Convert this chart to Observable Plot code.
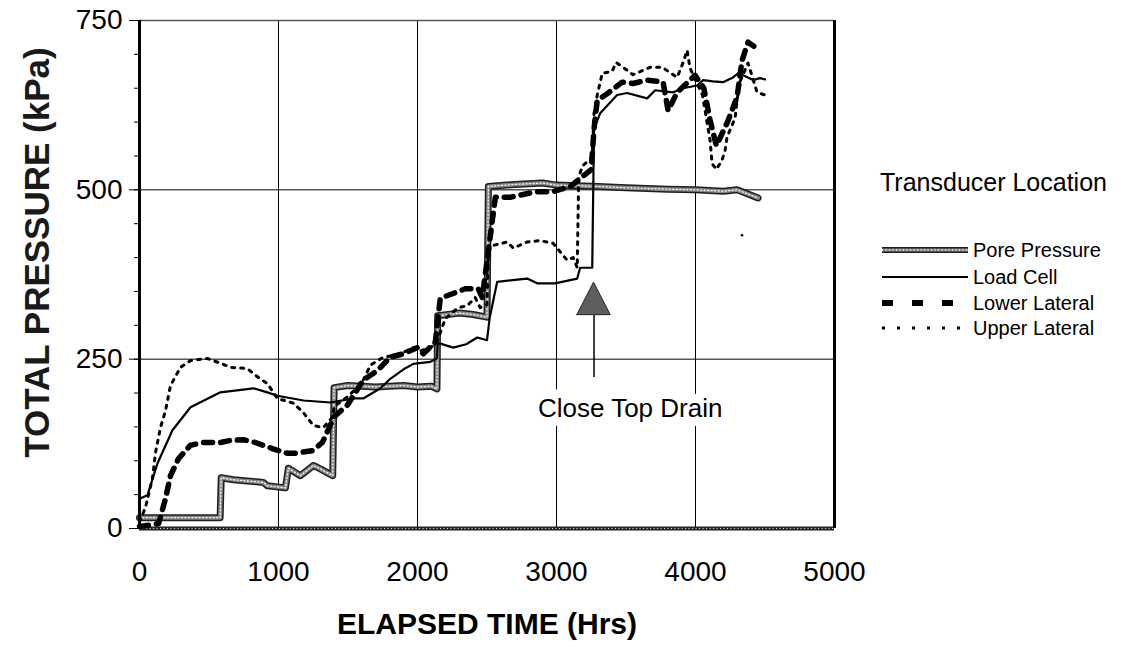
<!DOCTYPE html>
<html><head><meta charset="utf-8">
<script src="https://cdn.jsdelivr.net/npm/d3@7"></script>
<script src="https://cdn.jsdelivr.net/npm/@observablehq/plot@0.6"></script>
<style>
body{margin:0;background:#fff;font-family:"Liberation Sans",Arial,sans-serif;color:#000;}
#wrap{position:relative;width:1125px;height:648px;overflow:hidden;}
#chart{position:absolute;left:0;top:0;}
#legendTitle{position:absolute;left:880px;top:170px;font-size:25px;line-height:1;white-space:nowrap;}
.row{position:absolute;left:880px;height:26px;display:flex;align-items:center;font-size:20px;white-space:nowrap;}
.row svg{margin-right:3px;}
</style></head><body>
<div id="wrap"><div id="chart"></div><div id="legendTitle"></div><div id="legend"></div></div>
<script>
// ---- data (time in hours, pressure in kPa) ----
const poreTime = [0,580,588,676,891,920,1050,1071,1157,1251,1301,1390,1400,1500,1700,1900,2000,2100,2140,2145,2300,2400,2500,2510,2700,2900,3000,3300,3500,3800,4000,4200,4300,4400,4450];
const poreKPa  = [16,16,75,72,68,63,60,89,78,93,88,78,208,211,209,211,209,210,206,314,318,316,312,505,508,510,507,505,503,501,500,498,500,492,488];

const loadTime = [0,57,129,237,367,582,820,920,992,1180,1373,1540,1610,1733,1804,1900,1970,2092,2140,2145,2164,2257,2350,2430,2500,2520,2573,2700,2789,2861,2990,3149,3170,3257,3270,3314,3436,3508,3652,3710,3839,3911,4011,4055,4126,4198,4270,4320,4342,4414,4464,4500];
const loadKPa  = [44,49,96,145,179,201,207,201,196,189,186,192,192,207,221,235,243,246,251,273,273,267,272,282,278,312,364,367,369,362,362,369,385,385,590,613,640,643,635,647,644,650,654,662,660,659,666,674,669,662,665,663];

const lowerTime = [0,137,187,223,280,367,460,582,654,748,834,956,1064,1121,1244,1316,1400,1495,1610,1711,1804,1898,1998,2042,2128,2164,2257,2344,2437,2466,2560,2667,2847,2969,3100,3250,3270,3293,3372,3472,3551,3652,3767,3803,3868,3997,4060,4105,4150,4191,4230,4299,4335,4378,4420];
const lowerKPa  = [3,7,44,78,103,123,127,127,130,131,127,118,111,111,115,127,165,182,219,233,253,258,267,258,275,340,347,354,354,341,489,489,497,497,505,530,590,632,643,659,657,662,659,617,644,669,650,603,565,583,600,637,691,718,712];

const upperTime = [0,43,93,115,151,187,223,295,367,489,582,654,776,855,920,992,1107,1179,1251,1323,1390,1400,1500,1600,1661,1754,1855,1970,2020,2100,2140,2200,2293,2358,2415,2451,2500,2510,2545,2645,2689,2789,2883,2976,3077,3120,3149,3160,3190,3257,3270,3293,3329,3400,3429,3472,3550,3674,3760,3868,3911,3940,3960,4050,4105,4119,4150,4191,4213,4227,4285,4299,4320,4378,4443,4500];
const upperKPa  = [10,31,74,112,149,174,211,238,248,251,244,238,236,223,214,192,185,171,152,149,165,180,195,215,241,253,256,267,262,268,275,310,326,329,341,326,330,410,418,423,414,423,425,421,396,400,385,520,536,548,613,640,672,675,688,682,670,681,681,666,688,706,680,640,573,539,530,544,558,578,606,632,660,687,644,640];

const strayTime = [4335], strayKPa = [433];

const arrowTime = 3270, arrowTailKPa = 223, arrowBaseKPa = 315, arrowTipKPa = 363, arrowHalfWidth = 120;
const noteTime = 3530, noteKPa = 177, noteText = "Close Top Drain";

const xTicks = [0,1000,2000,3000,4000,5000];
const yTicks = [0,250,500,750];
const yMinor = d3.range(0, 751, 50);
const xGrid = [1000,2000,3000,4000];
const yGrid = [250,500];

const seriesNames = ["Pore Pressure","Load Cell","Lower Lateral","Upper Lateral"];

const zip = (ts, ps) => ts.map((t, i) => ({t, p: ps[i]}));
const pore = zip(poreTime, poreKPa);
const load = zip(loadTime, loadKPa);
const lower = zip(lowerTime, lowerKPa);
const upper = zip(upperTime, upperKPa);
const stray = zip(strayTime, strayKPa);
const tri = [
  {t: arrowTime - arrowHalfWidth, p: arrowBaseKPa},
  {t: arrowTime, p: arrowTipKPa},
  {t: arrowTime + arrowHalfWidth, p: arrowBaseKPa}
];

const stipple = (data, w) => [
  Plot.line(data, {x: "t", y: "p", stroke: "#1e1e1e", strokeWidth: w, strokeLinejoin: "round"}),
  Plot.line(data, {x: "t", y: "p", stroke: "#858585", strokeWidth: w - 3, strokeLinejoin: "round"}),
  Plot.line(data, {x: "t", y: "p", stroke: "#f4f4f4", strokeWidth: 1.3, strokeDasharray: "1.1,2.4"})
];

const chart = Plot.plot({
  width: 875, height: 648,
  marginLeft: 139, marginRight: 41, marginTop: 20, marginBottom: 120,
  x: {domain: [0, 5000]},
  y: {domain: [0, 750]},
  style: {fontFamily: "'Liberation Sans', Arial, sans-serif", color: "#000", background: "#fff", overflow: "visible"},
  marks: [
    Plot.gridX(xGrid, {stroke: "#000", strokeOpacity: 1, strokeWidth: 1}),
    Plot.gridY(yGrid, {stroke: "#000", strokeOpacity: 1, strokeWidth: 1}),
    Plot.ruleY([750], {stroke: "#555", strokeWidth: 1.6}),
    Plot.ruleY([0], {stroke: "#222", strokeWidth: 4}),
    Plot.ruleY([0], {stroke: "#ddd", strokeWidth: 1.2, strokeDasharray: "1.1,2.4"}),
    Plot.axisY(yMinor, {tickSize: 5, tickFormat: () => "", label: null}),
    Plot.axisY(yTicks, {tickSize: 10, tickPadding: 7, fontSize: 28, tickFormat: d => String(d), label: null}),
    Plot.axisX(xTicks, {tickSize: 0, tickPadding: 33, fontSize: 28, tickFormat: d => String(d), label: null}),
    Plot.text(["ELAPSED TIME (Hrs)"], {frameAnchor: "bottom", textAnchor: "middle", lineAnchor: "middle", dy: 96, fontSize: 30, fontWeight: "bold"}),
    Plot.text(["TOTAL PRESSURE (kPa)"], {frameAnchor: "left", textAnchor: "middle", lineAnchor: "middle", dx: -102, dy: -22, rotate: -90, fontSize: 35, fontWeight: "bold", fill: "#1a1a1a"}),
    Plot.text([noteText], {x: () => noteTime, y: () => noteKPa, text: d => d, fontSize: 26, fill: "#000", stroke: "#fff", strokeWidth: 18}),
    ...stipple(pore, 7),
    Plot.line(lower, {x: "t", y: "p", stroke: "#000", strokeWidth: 5.5, strokeDasharray: "9,8"}),
    Plot.line(upper, {x: "t", y: "p", stroke: "#000", strokeWidth: 3, strokeDasharray: "3,6"}),
    Plot.dot(stray, {x: "t", y: "p", r: 1.3, fill: "#000"}),
    Plot.line(load, {x: "t", y: "p", stroke: "#000", strokeWidth: 2.2, strokeLinejoin: "round"}),
    Plot.ruleX([arrowTime], {y1: arrowTailKPa, y2: arrowBaseKPa, stroke: "#000", strokeWidth: 1.5}),
    Plot.areaY(tri, {x: "t", y1: arrowBaseKPa, y2: "p", fill: "#5e5e5e", stroke: "#222", strokeWidth: 1}),
    Plot.ruleX([0], {stroke: "#000", strokeWidth: 3}),
    Plot.ruleX([5000], {stroke: "#000", strokeWidth: 3})
  ]
});
document.getElementById("chart").appendChild(chart);

// ---- legend ----
document.getElementById("legendTitle").textContent = "Transducer Location";
const rowY = [250, 277, 303, 328];
const samples = [
  `<line x1="2" y1="7" x2="88" y2="7" stroke="#1e1e1e" stroke-width="6"/><line x1="2" y1="7" x2="88" y2="7" stroke="#858585" stroke-width="3"/><line x1="2" y1="7" x2="88" y2="7" stroke="#f4f4f4" stroke-width="1.3" stroke-dasharray="1.1,2.4"/>`,
  `<line x1="2" y1="7" x2="88" y2="7" stroke="#000" stroke-width="2"/>`,
  `<line x1="2" y1="7" x2="88" y2="7" stroke="#000" stroke-width="6" stroke-dasharray="11,19"/>`,
  `<line x1="2" y1="7" x2="88" y2="7" stroke="#000" stroke-width="3" stroke-dasharray="3,12"/>`
];
const leg = document.getElementById("legend");
seriesNames.forEach((name, i) => {
  const row = document.createElement("div");
  row.className = "row";
  row.style.top = (rowY[i] - 13) + "px";
  row.innerHTML = `<svg width="90" height="14">${samples[i]}</svg><span>${name}</span>`;
  leg.appendChild(row);
});
</script>
</body></html>
